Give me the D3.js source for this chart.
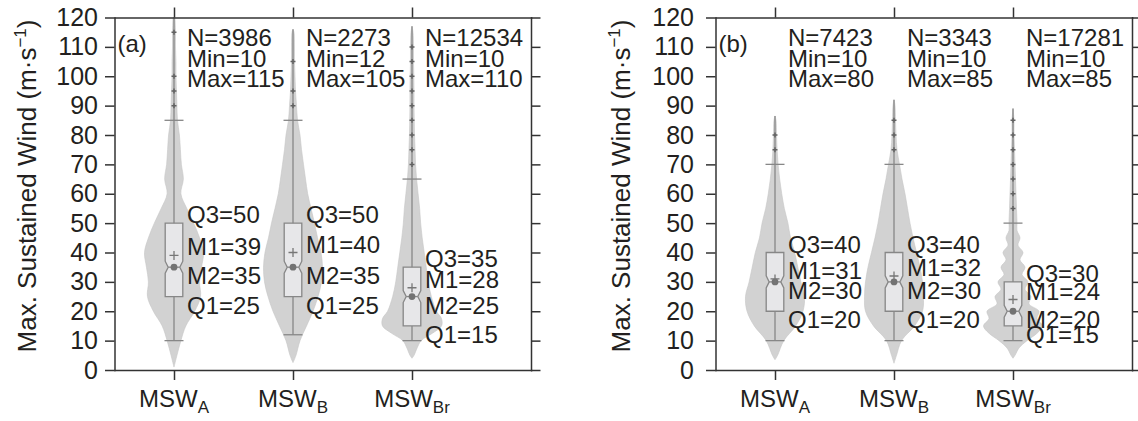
<!DOCTYPE html>
<html>
<head>
<meta charset="utf-8">
<script src="https://cdn.jsdelivr.net/npm/d3@7"></script>
<style>
body { margin: 0; background: #fff; }
text { font-family: "Liberation Sans", Arial, Helvetica, sans-serif; fill: #231f20; }
</style>
</head>
<body>
<script>
// categories and tick values
var cats = ["A", "B", "Br"]
var yTicks = [0, 10, 20, 30, 40, 50, 60, 70, 80, 90, 100, 110, 120]

// panel (a) statistics
var n_a = [3986, 2273, 12534]
var min_a = [10, 12, 10]
var max_a = [115, 105, 110]
var q1_a = [25, 25, 15]
var m2_a = [35, 35, 25]   // median
var m1_a = [39, 40, 28]   // mean
var q3_a = [50, 50, 35]
var lo_a = [10, 12, 10]   // lower whisker
var hi_a = [85, 85, 65]   // upper whisker
var out_a = [[90, 95, 100, 115], [90, 95, 105], [70, 75, 80, 85, 90, 95, 100, 105, 110]]

// panel (b) statistics
var n_b = [7423, 3343, 17281]
var min_b = [10, 10, 10]
var max_b = [80, 85, 85]
var q1_b = [20, 20, 15]
var m2_b = [30, 30, 20]
var m1_b = [31, 32, 24]
var q3_b = [40, 40, 30]
var lo_b = [10, 10, 10]
var hi_b = [70, 70, 50]
var out_b = [[75, 80], [75, 80, 85], [55, 60, 65, 70, 75, 80, 85]]

// violin profiles: [wind value, relative density]
var violA_a = [[1,0],[5,3],[10,7],[15,12],[20,21],[25,27],[30,26],[35,28],[40,30],[45,26],[50,20],[55,13],[60,7],[65,9.5],[70,7.5],[75,6.5],[80,5.5],[85,3.5],[90,3],[95,2.5],[100,2],[105,2],[110,1.5],[115,1.5],[120,1]]
var violB_a = [[2.5,0],[5,3],[10,7],[15,13.5],[20,20],[25,25],[30,28.5],[35,29.5],[40,28],[45,24.5],[50,21.5],[55,18],[60,14.7],[65,12.5],[70,10.5],[75,8.5],[80,7],[85,4.5],[90,3.5],[95,2.5],[100,2],[105,1.5],[110,1.5],[115,1],[116,0]]
var violBr_a = [[4,0],[5,2],[7.5,5],[10,9],[12.5,20],[15,29],[17.5,29],[20,24],[25,19],[30,16],[35,14],[40,12],[45,10],[50,8.5],[55,7.5],[60,6],[65,4.5],[70,3.5],[75,3],[80,2.5],[85,2.2],[90,2],[95,2],[100,1.8],[105,1.5],[110,1.5],[115,1],[117,0]]
var violA_b = [[3.5,0],[5,2.5],[10,8.5],[15,20],[20,27],[25,28.5],[30,25],[35,22],[40,19],[45,15],[50,12.5],[55,9],[60,6.5],[65,4.5],[70,3],[75,2],[80,1.5],[85,1],[86.5,0]]
var violB_b = [[2.3,0],[5,2.5],[10,7.5],[15,20.5],[20,28.5],[25,29.5],[30,28.5],[35,26],[40,22.5],[45,19],[50,16],[55,13.5],[60,11],[65,8],[70,5.5],[75,3],[80,2],[85,1.5],[90,1],[92,0]]
var violBr_b = [[4,0],[5,2],[7.5,6],[10,14],[12.5,24],[15,29.5],[17.5,24],[20,26],[22.5,16],[25,18],[27.5,12],[30,15],[32.5,9],[35,12],[37.5,7],[40,10],[42.5,5],[45,7],[47.5,4],[50,4],[55,3.5],[60,3],[65,2.5],[70,2],[75,1.5],[80,1],[85,1],[89,0]]

var svg = d3.select("body").append("svg")
  .attr("width", 1138)
  .attr("height", 421)

var y = d3.scaleLinear().domain([0, 120]).range([370, 17.5])

function drawPanel(p) {
  var g = svg.append("g")
  var x = d3.scaleLinear().domain([0.5, 4]).range([p.left, p.right])
  var boxW = 8.8, capW = 9.5, notchD = 3, notchH = 6

  // violins
  cats.forEach(function(c, i) {
    var cx = x(i + 1)
    var prof = p.viol[i]
    var w = d3.scaleLinear().domain([0, d3.max(prof, function(d) { return d[1] })]).range([0, 29.5])
    var area = d3.area()
      .curve(d3.curveCatmullRom)
      .y(function(d) { return y(d[0]) })
      .x0(function(d) { return cx - w(d[1]) })
      .x1(function(d) { return cx + w(d[1]) })
    g.append("path").datum(prof).attr("d", area)
      .style("fill", "#d2d2d2").style("stroke", "#c6c6c6").style("stroke-width", 0.6)

    // center / whisker line
    g.append("line").attr("x1", cx).attr("x2", cx)
      .attr("y1", y(p.lo[i])).attr("y2", y(prof[prof.length - 1][0]))
      .style("stroke", "#878787").style("stroke-width", 1.3)

    // notched box
    var t = y(p.q3[i]), b = y(p.q1[i]), m = y(p.m2[i])
    var path = d3.path()
    path.moveTo(cx - boxW, t)
    path.lineTo(cx + boxW, t)
    path.lineTo(cx + boxW, m - notchH)
    path.lineTo(cx + boxW - notchD, m)
    path.lineTo(cx + boxW, m + notchH)
    path.lineTo(cx + boxW, b)
    path.lineTo(cx - boxW, b)
    path.lineTo(cx - boxW, m + notchH)
    path.lineTo(cx - boxW + notchD, m)
    path.lineTo(cx - boxW, m - notchH)
    path.closePath()
    g.append("path").attr("d", path.toString())
      .style("fill", "#e7e7e9").style("stroke", "#878787").style("stroke-width", 1.3)

    g.append("line").attr("x1", cx - boxW + notchD).attr("x2", cx + boxW - notchD)
      .attr("y1", m).attr("y2", m)
      .style("stroke", "#878787").style("stroke-width", 1.3)
    g.append("circle").attr("cx", cx).attr("cy", m).attr("r", 3.4).style("fill", "#737373")

    // mean marker
    var my = y(p.m1[i])
    g.append("path").attr("d", "M" + (cx - 4.5) + "," + my + "H" + (cx + 4.5) + "M" + cx + "," + (my - 4.5) + "V" + (my + 4.5))
      .style("stroke", "#777").style("stroke-width", 1.3)

    // whisker caps
    ;[p.lo[i], p.hi[i]].forEach(function(v) {
      g.append("line").attr("x1", cx - capW).attr("x2", cx + capW)
        .attr("y1", y(v)).attr("y2", y(v))
        .style("stroke", "#878787").style("stroke-width", 1.3)
    })

    // outliers
    g.append("g").selectAll("path")
      .data(p.out[i])
      .enter()
      .append("path")
      .attr("d", function(v) {
        var yy = y(v)
        return "M" + (cx - 2.5) + "," + yy + "H" + (cx + 2.5) + "M" + cx + "," + (yy - 2.5) + "V" + (yy + 2.5)
      })
      .style("stroke", "#626262").style("stroke-width", 1.5)

    // text: N, Min, Max
    var tx = cx + 13
    g.append("text").attr("x", tx).attr("y", 46).attr("font-size", 24).text("N=" + p.n[i])
    g.append("text").attr("x", tx).attr("y", 66.5).attr("font-size", 24).text("Min=" + p.min[i])
    g.append("text").attr("x", tx).attr("y", 87).attr("font-size", 24).text("Max=" + p.max[i])

    // text: quartiles and means
    g.append("text").attr("x", tx).attr("y", y(p.q3[i])).attr("font-size", 24).text("Q3=" + p.q3[i])
    g.append("text").attr("x", tx).attr("y", y(p.m1[i])).attr("font-size", 24).text("M1=" + p.m1[i])
    g.append("text").attr("x", tx).attr("y", y(p.m2[i]) + 17).attr("font-size", 24).text("M2=" + p.m2[i])
    g.append("text").attr("x", tx).attr("y", y(p.q1[i]) + 17).attr("font-size", 24).text("Q1=" + p.q1[i])

    // category label
    var lab = g.append("text").attr("x", cx).attr("y", 407).attr("text-anchor", "middle").attr("font-size", 24)
    lab.append("tspan").text("MSW")
    lab.append("tspan").attr("dy", 6).attr("font-size", 17).text(c)
  })

  // axes
  var axL = g.append("g").attr("transform", "translate(" + p.left + ",0)")
    .call(d3.axisLeft(y).tickValues(yTicks).tickSize(9.5).tickSizeOuter(0).tickPadding(p.pad))
  var axR = g.append("g").attr("transform", "translate(" + p.right + ",0)")
    .call(d3.axisRight(y).tickValues(yTicks).tickSize(9.5).tickSizeOuter(0).tickFormat(""))
  var axT = g.append("g").attr("transform", "translate(0," + y(120) + ")")
    .call(d3.axisTop(x).tickValues([1, 2, 3]).tickSize(10).tickSizeOuter(0).tickFormat(""))
  var axB = g.append("g").attr("transform", "translate(0," + y(0) + ")")
    .call(d3.axisBottom(x).tickValues([1, 2, 3]).tickSize(10).tickSizeOuter(0).tickFormat(""))
  ;[axL, axR, axT, axB].forEach(function(a) {
    a.attr("font-size", 25)
    a.selectAll("path").style("stroke", "#333").style("stroke-width", 1.5).style("stroke-linecap", "square")
    a.selectAll("line").style("stroke", "#333").style("stroke-width", 1.5)
    a.selectAll("text").style("fill", "#231f20")
  })

  // y axis title
  var yl = g.append("text")
    .attr("transform", "translate(" + p.titleX + ",186) rotate(-90)")
    .attr("text-anchor", "middle").attr("font-size", 26)
  yl.append("tspan").text("Max. Sustained Wind (m\u00b7s")
  yl.append("tspan").attr("dy", -10).attr("font-size", 17).text("\u22121")
  yl.append("tspan").attr("dy", 10).text(")")

  // panel letter
  g.append("text").attr("x", p.left + 3).attr("y", 52).attr("font-size", 24).text(p.letter)
}

drawPanel({ left: 114.5, right: 531, pad: 7, titleX: 36, letter: "(a)",
  n: n_a, min: min_a, max: max_a, q1: q1_a, m2: m2_a, m1: m1_a, q3: q3_a, lo: lo_a, hi: hi_a, out: out_a,
  viol: [violA_a, violB_a, violBr_a] })
drawPanel({ left: 715.5, right: 1132, pad: 12, titleX: 630, letter: "(b)",
  n: n_b, min: min_b, max: max_b, q1: q1_b, m2: m2_b, m1: m1_b, q3: q3_b, lo: lo_b, hi: hi_b, out: out_b,
  viol: [violA_b, violB_b, violBr_b] })
</script>
</body>
</html>
